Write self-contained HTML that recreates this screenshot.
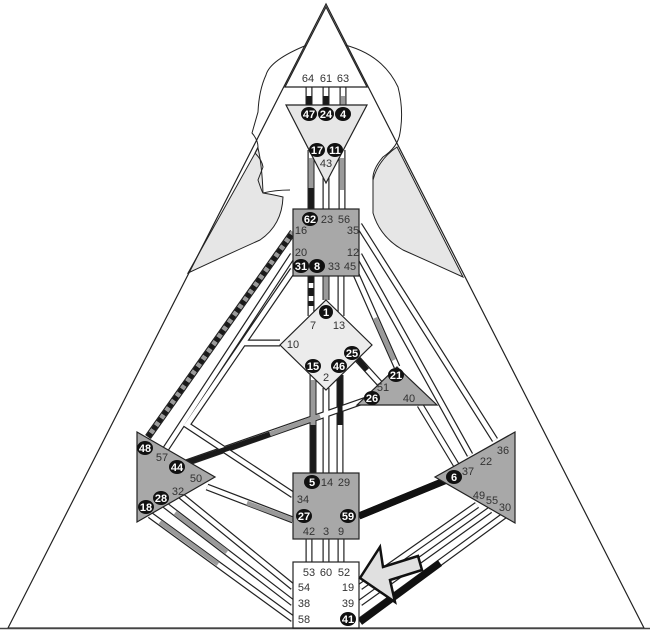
<!DOCTYPE html>
<html><head><meta charset="utf-8"><style>
html,body{margin:0;padding:0;background:#fff;}
svg{display:block;}
text{font-family:"Liberation Sans",sans-serif;font-size:11px;fill:#333;text-anchor:middle;}
.g text{fill:#fff;font-weight:bold;}
</style></head><body>
<svg width="650" height="633" viewBox="0 0 650 633" xmlns="http://www.w3.org/2000/svg">
<path d="M258,148 Q262,165 263,193 Q275,195 283,197 Q282,225 260,240 Q220,258 188,273 Z" fill="#e6e6e6" stroke="#222" stroke-width="1"/>
<path d="M397,147 L463,277 Q430,262 403,250 Q380,237 373,213 L373,180 Q378,160 397,147 Z" fill="#e6e6e6" stroke="#222" stroke-width="1"/>
<path d="M326,4 L8,628 L644,628 Z" fill="none" stroke="#222" stroke-width="1.2"/>
<line x1="0" y1="628.5" x2="650" y2="628.5" stroke="#444" stroke-width="1.5"/>
<path d="M307,45 Q270,60 266,75 Q259,90 258,112 L252,133 Q258,140 258,147 L255,153 Q262,160 263,167 L258,180 Q262,192 263,193 Q275,190 290,190" fill="none" stroke="#222" stroke-width="1"/>
<path d="M345,45 Q383,55 398,87 Q404,110 400,133 Q398,147 383,157 Q372,170 373,180" fill="none" stroke="#222" stroke-width="1"/>

<g stroke-linecap="butt">
<g stroke="#222" stroke-width="7" fill="none">
<path d="M309,87V105M326,87V105M343,87V105M311,150V209M326,165V209M342,150V209M311,276V316M326,276V300M341,276V316M313,375V473M326,388V473M340,375V473M309,539V562M326,539V562M341,539V562"/>
<path d="M148,437L293,232M165,450L293,255M293,270L187,425L293,495M280,343H243M207,487L293,520M180,465L372,398M352,353L383,387M355,272L397,367M359,225L495,440M359,255L470,455M420,405L458,468M454,477L359,516M477,505L360,587M490,510L360,603M505,515L360,621M180,495L293,587M165,505L293,603M150,515L293,619"/>
</g>
<g stroke="#fff" stroke-width="4.6" fill="none">
<path d="M309,87V105M326,87V105M343,87V105M311,150V209M326,165V209M342,150V209M311,276V316M326,276V300M341,276V316M313,375V473M326,388V473M340,375V473M309,539V562M326,539V562M341,539V562"/>
<path d="M148,437L293,232M165,450L293,255M293,270L187,425L293,495M280,343H243M207,487L293,520M180,465L372,398M352,353L383,387M355,272L397,367M359,225L495,440M359,255L470,455M420,405L458,468M454,477L359,516M477,505L360,587M490,510L360,603M505,515L360,621M180,495L293,587M165,505L293,603M150,515L293,619"/>
</g>
<g stroke="#1a1a1a" stroke-width="5" fill="none">
<path d="M309,96V105M326,96V105M311,188V209M313,425V473M340,375V425"/>
<path d="M311,276V283M311,288V296M311,301V306"/>
<path d="M180,465L270,434M357,358L367,370"/>
<path d="M148,437L293,232" stroke-dasharray="5 4"/>
</g>
<g stroke="#9a9a9a" stroke-width="4.6" fill="none">
<path d="M343,96V105M311,158V188M342,158V190M326,276V300M313,380V425"/>
<path d="M270,434L320,416M247,503L293,520M375,318L394,360M175,513L227,552M160,522L218,564"/>
<path d="M148,437L293,232" stroke-dasharray="4 5" stroke-dashoffset="-5"/>
</g>
<g stroke="#111" stroke-width="7" fill="none">
<path d="M454,477L359,516M440,563L360,622"/>
</g>
</g>

<path d="M326,7 L367,87 L285,87 Z" fill="#fff" stroke="#222" stroke-width="1.2"/>
<path d="M286,105 L367,105 L326,183 Z" fill="#e6e6e6" stroke="#222" stroke-width="1.2"/>
<rect x="293" y="209" width="66" height="67" fill="#a8a8a8" stroke="#222" stroke-width="1.2"/>
<path d="M326,300 L372,345 L326,390 L280,345 Z" fill="#ececec" stroke="#222" stroke-width="1.2"/>
<path d="M397,367 L437,405 L357,405 Z" fill="#a8a8a8" stroke="#222" stroke-width="1.2"/>
<path d="M137,432 L215,477 L137,522 Z" fill="#a8a8a8" stroke="#222" stroke-width="1.2"/>
<path d="M515,432 L435,477 L515,523 Z" fill="#a8a8a8" stroke="#222" stroke-width="1.2"/>
<rect x="293" y="473" width="66" height="66" fill="#a8a8a8" stroke="#222" stroke-width="1.2"/>
<rect x="293" y="562" width="66" height="66" fill="#fff" stroke="#222" stroke-width="1.2"/>

<path d="M360,578 L380,547 L383,567 L418,556 L422,570 L390,580 L395,602 Z" fill="#e0e0e0" stroke="#111" stroke-width="2.5"/>

<g fill="#111">
<ellipse cx="309" cy="114" rx="8" ry="7"/><ellipse cx="326" cy="114" rx="8" ry="7"/><ellipse cx="343" cy="114" rx="8" ry="7"/>
<ellipse cx="317" cy="150" rx="8" ry="7"/><ellipse cx="335" cy="150" rx="8" ry="7"/>
<ellipse cx="310" cy="219" rx="8" ry="7"/><ellipse cx="301" cy="266" rx="8" ry="7"/><ellipse cx="317" cy="266" rx="8" ry="7"/>
<ellipse cx="326" cy="312" rx="7" ry="7"/><ellipse cx="313" cy="366" rx="8" ry="7"/><ellipse cx="339" cy="366" rx="8" ry="7"/><ellipse cx="352" cy="353" rx="8" ry="7"/>
<ellipse cx="396" cy="375" rx="8" ry="7"/><ellipse cx="372" cy="398" rx="8" ry="7"/>
<ellipse cx="145" cy="448" rx="8" ry="7"/><ellipse cx="177" cy="467" rx="8" ry="7"/><ellipse cx="161" cy="498" rx="8" ry="7"/><ellipse cx="146" cy="507" rx="8" ry="7"/>
<ellipse cx="454" cy="477" rx="8" ry="7"/>
<ellipse cx="312" cy="482" rx="8" ry="7"/><ellipse cx="304" cy="516" rx="8" ry="7"/><ellipse cx="348" cy="516" rx="8" ry="7"/>
<ellipse cx="348" cy="619" rx="8" ry="7"/>
</g>
<g class="g">
<text x="309" y="118">47</text><text x="326" y="118">24</text><text x="343" y="118">4</text>
<text x="317" y="154">17</text><text x="335" y="154">11</text>
<text x="310" y="223">62</text><text x="301" y="270">31</text><text x="317" y="270">8</text>
<text x="326" y="316">1</text><text x="313" y="370">15</text><text x="339" y="370">46</text><text x="352" y="357">25</text>
<text x="396" y="379">21</text><text x="372" y="402">26</text>
<text x="145" y="452">48</text><text x="177" y="471">44</text><text x="161" y="502">28</text><text x="146" y="511">18</text>
<text x="454" y="481">6</text>
<text x="312" y="486">5</text><text x="304" y="520">27</text><text x="348" y="520">59</text>
<text x="348" y="623">41</text>
</g>
<g>
<text x="308" y="82">64</text><text x="326" y="82">61</text><text x="343" y="82">63</text>
<text x="326" y="167">43</text>
<text x="327" y="223">23</text><text x="344" y="223">56</text><text x="301" y="234">16</text><text x="353" y="234">35</text>
<text x="301" y="256">20</text><text x="353" y="256">12</text><text x="334" y="270">33</text><text x="350" y="270">45</text>
<text x="313" y="329">7</text><text x="339" y="329">13</text><text x="293" y="348">10</text><text x="326" y="381">2</text>
<text x="383" y="391">51</text><text x="409" y="402">40</text>
<text x="162" y="461">57</text><text x="196" y="482">50</text><text x="178" y="495">32</text>
<text x="503" y="454">36</text><text x="486" y="465">22</text><text x="468" y="475">37</text>
<text x="479" y="499">49</text><text x="492" y="504">55</text><text x="505" y="511">30</text>
<text x="327" y="486">14</text><text x="344" y="486">29</text><text x="303" y="503">34</text>
<text x="309" y="535">42</text><text x="326" y="535">3</text><text x="341" y="535">9</text>
<text x="309" y="576">53</text><text x="326" y="576">60</text><text x="344" y="576">52</text>
<text x="304" y="591">54</text><text x="348" y="591">19</text>
<text x="304" y="607">38</text><text x="348" y="607">39</text>
<text x="304" y="623">58</text>
</g>
</svg>
</body></html>
